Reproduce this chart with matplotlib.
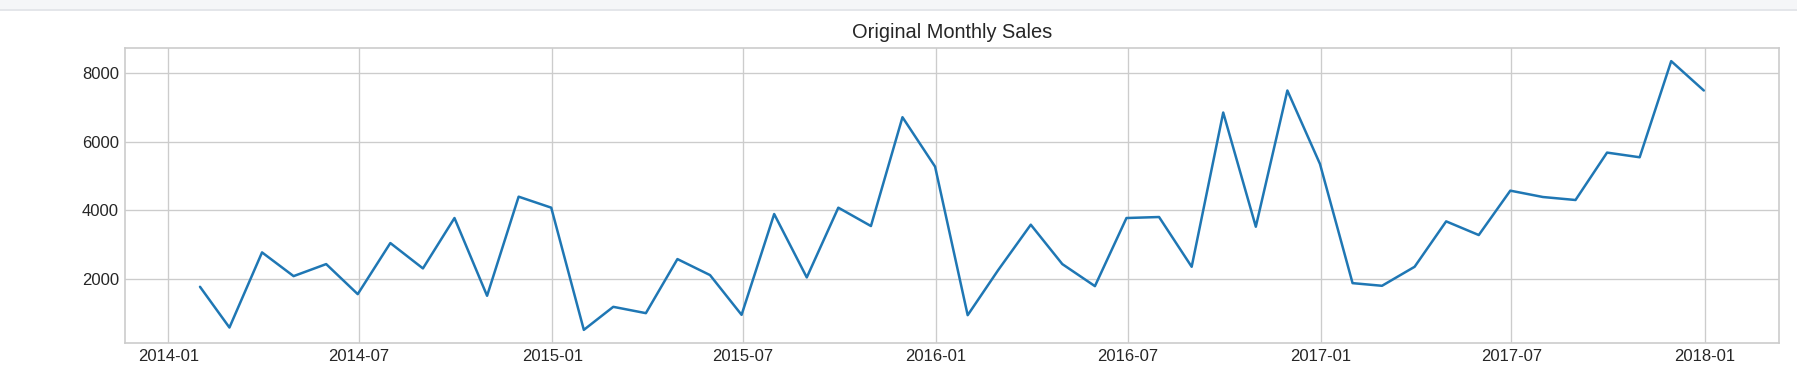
import matplotlib
matplotlib.use("Agg")
import matplotlib.pyplot as plt
import pandas as pd
from matplotlib.patches import Rectangle
from matplotlib.lines import Line2D

months = pd.date_range("2014-01-31", periods=48, freq="ME")
sales_2014 = [1777, 592, 2777, 2087, 2437, 1563, 3049, 2311, 3777, 1515, 4398, 4078]
sales_2015 = [524, 1194, 1010, 2583, 2117, 961, 3893, 2049, 4078, 3544, 6709, 5272]
sales_2016 = [951, 2262, 3583, 2437, 1796, 3777, 3806, 2359, 6845, 3524, 7486, 5350]
sales_2017 = [1883, 1806, 2359, 3680, 3282, 4573, 4388, 4301, 5680, 5544, 8340, 7486]
sales = sales_2014 + sales_2015 + sales_2016 + sales_2017
title = "Original Monthly Sales"

plt.style.use("seaborn-v0_8-whitegrid")
plt.rcParams["font.family"] = ["Liberation Sans", "DejaVu Sans"]

fig = plt.figure(figsize=(1797 / 120, 377 / 120), dpi=120)
ax = fig.add_axes([124.8 / 1797, 1 - 343.3 / 377, (1779 - 124.8) / 1797, (343.3 - 47.7) / 377])

# top screenshot band
fig.patches.append(Rectangle((0, 1 - 9 / 377), 1, 9 / 377, transform=fig.transFigure,
                             facecolor="#f5f6f8", edgecolor="none", zorder=-1))
fig.lines.append(Line2D([0, 1], [1 - 9.5 / 377, 1 - 9.5 / 377], transform=fig.transFigure,
                        color="#dfe2e6", linewidth=1))

ax.plot(months, sales, color="#1f77b4", linewidth=1.5)
ax.set_title(title, fontsize=12, color="#262626")
ax.set_yticks([2000, 4000, 6000, 8000])
ax.tick_params(labelsize=10, colors="#262626")
for s in ax.spines.values():
    s.set_visible(True)
    s.set_edgecolor("#cccccc")

fig.savefig("out.png", dpi=120)
